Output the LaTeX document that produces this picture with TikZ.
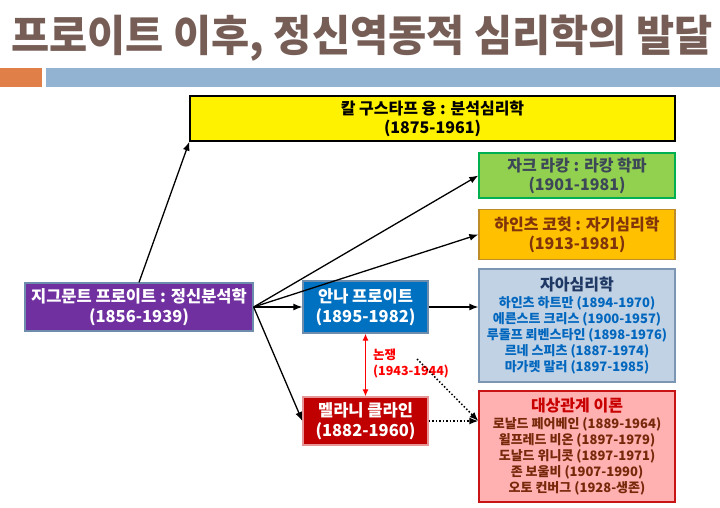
\documentclass[tikz,border=0pt]{standalone}
\usepackage{fontspec}
\setmainfont{Noto Sans CJK KR}
\usetikzlibrary{arrows.meta}
\definecolor{titlec}{RGB}{118,94,86}
\definecolor{barorange}{RGB}{224,128,72}
\definecolor{barblue}{RGB}{146,180,210}
\definecolor{purplef}{RGB}{112,48,160}
\definecolor{annaf}{RGB}{0,112,192}
\definecolor{melf}{RGB}{192,0,0}
\definecolor{grayblue}{RGB}{110,140,172}
\definecolor{greenf}{RGB}{146,208,80}
\definecolor{greend}{RGB}{0,176,80}
\definecolor{lacant}{RGB}{60,72,88}
\definecolor{kohutf}{RGB}{255,192,0}
\definecolor{kohutd}{RGB}{190,140,40}
\definecolor{kohutt}{RGB}{128,52,12}
\definecolor{egof}{RGB}{193,210,228}
\definecolor{egod}{RGB}{122,150,178}
\definecolor{egotitle}{RGB}{31,56,100}
\definecolor{egotext}{RGB}{0,102,190}
\definecolor{objf}{RGB}{255,176,176}
\definecolor{objd}{RGB}{200,20,20}
\definecolor{objtitle}{RGB}{200,0,0}
\definecolor{objtext}{RGB}{120,40,10}
\definecolor{melb}{RGB}{230,150,150}
\begin{document}
\begin{tikzpicture}[x=1pt,y=-1pt,
  box/.style={draw, line width=1.3pt, inner sep=0pt, align=center, font=\bfseries},
  big/.style={font=\bfseries\fontsize{16.5}{19.5}\selectfont},
  mid/.style={font=\bfseries\fontsize{16}{19}\selectfont},
  arr/.style={line width=1.3pt, -{Latex[length=9pt,width=7pt]}},
  dotarr/.style={line width=1.5pt, dotted, -{Latex[length=9pt,width=7pt]}},
  redarr/.style={line width=1.2pt, red, {Latex[length=7pt,width=6pt]}-{Latex[length=7pt,width=6pt]}}
]
\useasboundingbox (0,0) rectangle (720,507);
\fill[white] (0,0) rectangle (720,507);
% title and bars
\node[anchor=base, text=titlec, inner sep=0pt, font=\bfseries\fontsize{43}{43}\selectfont] (title) at (362,51) {\scalebox{0.965}[1]{프로이트 이후, 정신역동적 심리학의 발달}};
\fill[barorange] (0,68) rectangle (42,87);
\fill[barblue] (46,68) rectangle (720,87);
% boxes
\node[box, mid, fill=yellow, draw=black, minimum width=485pt, minimum height=45pt] (jung) at (432.5,118.5) {칼 구스타프 융 : 분석심리학\\(1875-1961)};
\node[box, mid, fill=greenf, draw=greend, text=lacant, minimum width=196pt, minimum height=45pt] (lacan) at (577,175.5) {자크 라캉 : 라캉 학파\\(1901-1981)};
\node[box, mid, fill=kohutf, draw=kohutd, text=kohutt, minimum width=196pt, minimum height=50pt] (kohut) at (577,234.5) {하인츠 코헛 : 자기심리학\\(1913-1981)};
\node[box, fill=egof, draw=egod, text=egotext, minimum width=196pt, minimum height=113pt, font=\bfseries\fontsize{13}{16}\selectfont] (ego) at (577,325.5) {{\color{egotitle}\fontsize{16}{16}\selectfont 자아심리학}\\[1pt]하인츠 하트만 (1894-1970)\\에른스트 크리스 (1900-1957)\\루돌프 뢰벤스타인 (1898-1976)\\르네 스피츠 (1887-1974)\\마가렛 말러 (1897-1985)};
\node[box, fill=objf, draw=objd, text=objtext, minimum width=196pt, minimum height=111pt, font=\bfseries\fontsize{13}{16}\selectfont] (obj) at (577,446.5) {{\color{objtitle}\fontsize{16}{16}\selectfont 대상관계 이론}\\[1pt]로날드 페어베인 (1889-1964)\\윌프레드 비온 (1897-1979)\\도날드 위니콧 (1897-1971)\\존 보울비 (1907-1990)\\오토 컨버그 (1928-생존)};
\node[box, big, fill=purplef, draw=grayblue, text=white, minimum width=228pt, minimum height=48pt] (freud) at (139,307) {지그문트 프로이트 : 정신분석학\\(1856-1939)};
\node[box, big, fill=annaf, draw=grayblue, text=white, minimum width=125pt, minimum height=52pt] (anna) at (365.5,307) {안나 프로이트\\(1895-1982)};
\node[box, big, fill=melf, draw=melb, text=white, minimum width=125pt, minimum height=48pt] (melanie) at (365.5,421) {멜라니 클라인\\(1882-1960)};
% debate label
\node[anchor=north west, inner sep=0pt, align=left, text=red, font=\bfseries\fontsize{12.5}{16}\selectfont] (debate) at (373,349) {논쟁\\(1943-1944)};
\coordinate (dstart) at (417,359);
% connectors
\draw[arr] (freud.north) -- (jung.south west);
\draw[arr] (freud.east) -- (lacan.west);
\draw[arr] (freud.east) -- (kohut.west);
\draw[arr] (freud.east) -- (anna.west);
\draw[arr] (freud.east) -- (melanie.west);
\draw[arr] (anna.east) -- (anna.east -| ego.west);
\draw[redarr] (anna.south) -- (melanie.north);
\draw[dotarr] (dstart) -- (obj.west |- melanie.east);
\draw[dotarr] (melanie.east) -- (melanie.east -| obj.west);
\end{tikzpicture}
\end{document}
